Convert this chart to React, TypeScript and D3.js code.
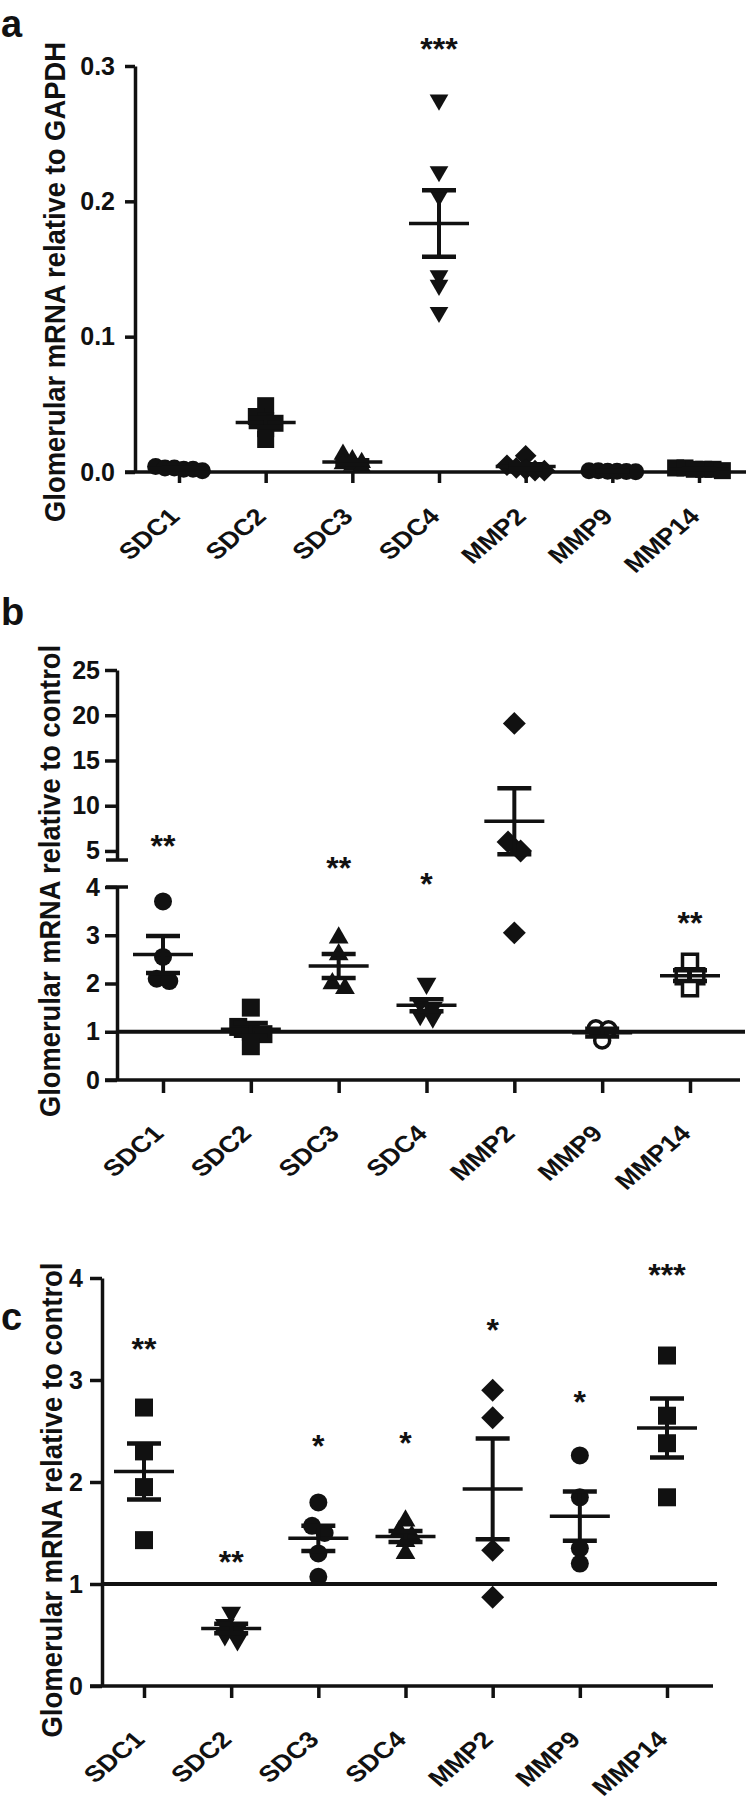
import * as d3 from "d3";
import { useEffect, useRef } from "react";

const genes = ["SDC1", "SDC2", "SDC3", "SDC4", "MMP2", "MMP9", "MMP14"];

// a: glomerular mRNA relative to GAPDH
const aValues = [
  [0.004, 0.003, 0.003, 0.002, 0.002, 0.001],
  [0.049, 0.041, 0.038, 0.036, 0.032, 0.024],
  [0.013, 0.009, 0.007, 0.006, 0.005, 0.004],
  [0.275, 0.222, 0.204, 0.145, 0.138, 0.118],
  [0.012, 0.005, 0.003, 0.002, 0.001, 0.001],
  [0.001, 0.001, 0.0005, 0.0005, 0.0003, 0.0002],
  [0.003, 0.003, 0.002, 0.002, 0.002, 0.001],
];
const aSymbols = ["circle", "square", "triangle", "triangleDown", "diamond", "circle", "square"];
const aStars = ["", "", "", "***", "", "", ""];
const aStarAt = [0, 0, 0, 0.318, 0, 0, 0];
const aTicks = [0, 0.1, 0.2, 0.3];

// b: relative to control (broken axis)
const bValues = [
  [3.7, 2.55, 2.1, 2.05],
  [1.5, 1.1, 1.0, 0.95, 0.7],
  [2.95, 2.6, 2.0, 1.9],
  [2.0, 1.6, 1.5, 1.35, 1.3],
  [19.1, 6.0, 5.0, 3.05],
  [1.07, 1.05, 0.82],
  [2.45, 2.15, 2.15, 1.9],
];
const bSymbols = ["circle", "square", "triangle", "triangleDown", "diamond", "openCircle", "openSquare"];
const bStars = ["**", "", "**", "*", "", "", "**"];
// star heights, read on the lower scale
const bStarAt = [5.0, 0, 4.53, 4.2, 0, 0, 3.4];
const bTicksUpper = [5, 10, 15, 20, 25];
const bTicksLower = [0, 1, 2, 3, 4];

// c: relative to control
const cValues = [
  [2.73, 2.3, 1.95, 1.43],
  [0.72, 0.6, 0.55, 0.5, 0.45],
  [1.8, 1.57, 1.5, 1.3, 1.07],
  [1.62, 1.52, 1.47, 1.42, 1.3],
  [2.9, 2.63, 1.33, 0.87],
  [2.26, 1.85, 1.35, 1.2],
  [3.24, 2.65, 2.38, 1.85],
];
const cSymbols = ["square", "triangleDown", "circle", "triangle", "diamond", "circle", "square"];
const cStars = ["**", "**", "*", "*", "*", "*", "***"];
const cStarAt = [3.37, 1.28, 2.42, 2.45, 3.56, 2.85, 4.1];
const cTicks = [0, 1, 2, 3, 4];

const FONT = "'Liberation Sans', Arial, sans-serif";
const INK = "#111";

function markerPath(sym: string, size: number) {
  if (sym === "circle" || sym === "openCircle")
    return d3.symbol(d3.symbolCircle, Math.PI * (size / 2) ** 2)();
  if (sym === "square" || sym === "openSquare")
    return d3.symbol(d3.symbolSquare, size * size)();
  if (sym === "diamond") return d3.symbol(d3.symbolSquare, (size * 0.9) ** 2)();
  // triangles, side ~ size*1.1
  const s = size * 1.1;
  return d3.symbol(d3.symbolTriangle, (Math.sqrt(3) / 4) * s * s)();
}

function markerRotate(sym: string) {
  if (sym === "diamond") return 45;
  if (sym === "triangleDown") return 180;
  return 0;
}

// GraphPad-like scatter: points at about the same height go side by side
function swarmOffsets(ys: number[], size: number, step: number) {
  const idx = d3.range(ys.length).sort((i, j) => ys[i] - ys[j]);
  const out = new Array(ys.length).fill(0);
  let row: number[] = [];
  let start = -Infinity;
  const flush = () => {
    row.forEach((k, i) => (out[k] = (i - (row.length - 1) / 2) * size * step));
  };
  for (const k of idx) {
    if (ys[k] - start > size * 0.55) {
      flush();
      row = [];
      start = ys[k];
    }
    row.push(k);
  }
  flush();
  return out;
}

function drawGroups(
  g: any,
  values: number[][],
  symbols: string[],
  x: d3.ScalePoint<string>,
  y: (v: number) => number,
  size: number,
  step: number
) {
  values.forEach((vals, i) => {
    const cx = x(genes[i]) as number;
    const ys = vals.map(y);
    const offs = swarmOffsets(ys, size, step);
    const sym = symbols[i];
    const open = sym.startsWith("open");
    vals.forEach((v, k) => {
      g.append("path")
        .attr("d", markerPath(sym, open ? size - 3 : size))
        .attr("transform", `translate(${cx + offs[k]},${ys[k]}) rotate(${markerRotate(sym)})`)
        .attr("fill", open ? "#fff" : INK)
        .attr("stroke", INK)
        .attr("stroke-width", open ? 3.5 : 0);
    });
    const m = d3.mean(vals) as number;
    const sem = (d3.deviation(vals) as number) / Math.sqrt(vals.length);
    const eb = g.append("g").attr("stroke", INK).attr("fill", "none");
    eb.append("line").attr("x1", cx - 30).attr("x2", cx + 30).attr("y1", y(m)).attr("y2", y(m)).attr("stroke-width", 3.5);
    eb.append("line").attr("x1", cx).attr("x2", cx).attr("y1", y(m - sem)).attr("y2", y(m + sem)).attr("stroke-width", 4);
    [m - sem, m + sem].forEach((v) =>
      eb.append("line").attr("x1", cx - 17).attr("x2", cx + 17).attr("y1", y(v)).attr("y2", y(v)).attr("stroke-width", 4.5)
    );
  });
}

function drawStars(g: any, stars: string[], at: number[], x: d3.ScalePoint<string>, y: (v: number) => number) {
  stars.forEach((s, i) => {
    if (!s) return;
    g.append("text")
      .attr("x", x(genes[i]) as number)
      .attr("y", y(at[i]) + 18)
      .attr("text-anchor", "middle")
      .attr("font-family", FONT)
      .attr("font-weight", "bold")
      .attr("font-size", 32)
      .attr("fill", INK)
      .text(s);
  });
}

function drawXAxis(g: any, x: d3.ScalePoint<string>, axisY: number, x0: number, x1: number, tick: number, dy: number) {
  g.append("line").attr("x1", x0).attr("x2", x1).attr("y1", axisY).attr("y2", axisY).attr("stroke", INK).attr("stroke-width", 3.5);
  const ax = g
    .append("g")
    .attr("transform", `translate(0,${axisY})`)
    .call(d3.axisBottom(x).tickSize(tick).tickFormat(() => ""));
  ax.select(".domain").remove();
  ax.selectAll("line").attr("stroke", INK).attr("stroke-width", 3.5);
  // the source figure is a little stretched sideways, so the slanted labels are too
  g.selectAll(null)
    .data(genes)
    .join("text")
    .attr("transform", (d: string) => `translate(${(x(d) as number) + 2},${axisY + dy}) scale(1.08,0.92) rotate(-45)`)
    .attr("text-anchor", "end")
    .attr("font-family", FONT)
    .attr("font-weight", "bold")
    .attr("font-size", 25)
    .attr("fill", INK)
    .text((d: string) => d);
}

function styleYAxis(ax: any) {
  ax.select(".domain").attr("stroke", INK).attr("stroke-width", 3.5);
  ax.selectAll("line").attr("stroke", INK).attr("stroke-width", 3.5);
  ax.selectAll("text").attr("font-family", FONT).attr("font-weight", "bold").attr("font-size", 25).attr("fill", INK);
}

function yTitle(g: any, text: string, bx: number, cy: number, len: number) {
  g.append("text")
    .attr("transform", `translate(${bx},${cy}) rotate(-90)`)
    .attr("text-anchor", "middle")
    .attr("font-family", FONT)
    .attr("font-weight", "bold")
    .attr("font-size", 29)
    .attr("textLength", len)
    .attr("lengthAdjust", "spacingAndGlyphs")
    .attr("fill", INK)
    .text(text);
}

function panelLetter(g: any, t: string, x: number, y: number) {
  g.append("text").attr("x", x).attr("y", y).attr("font-family", FONT).attr("font-weight", "bold").attr("font-size", 38).attr("fill", INK).text(t);
}

export default function App() {
  const ref = useRef<SVGSVGElement>(null);

  useEffect(() => {
    const svg = d3.select(ref.current);
    svg.selectAll("*").remove();
    const intFmt = d3.format("d");

    // ---- panel a
    const a = svg.append("g");
    const xA = d3.scalePoint<string>().domain(genes).range([179, 699]);
    const yA = d3.scaleLinear().domain([0, 0.3]).range([472, 66]);
    const axA = a
      .append("g")
      .attr("transform", "translate(135,0)")
      .call(d3.axisLeft(yA).tickValues(aTicks).tickFormat(d3.format(".1f")).tickSize(10).tickPadding(10).tickSizeOuter(0));
    styleYAxis(axA);
    drawXAxis(a, xA, 472, 125, 746, 11, 46);
    drawGroups(a, aValues, aSymbols, xA, yA, 17, 0.55);
    drawStars(a, aStars, aStarAt, xA, yA);
    yTitle(a, "Glomerular mRNA relative to GAPDH", 65, 282, 480);
    panelLetter(a, "a", 1, 37);

    // ---- panel b (broken y axis)
    const b = svg.append("g");
    const xB = d3.scalePoint<string>().domain(genes).range([163, 690]);
    const yBu = d3.scaleLinear().domain([4, 25]).range([860, 670]);
    const yBl = d3.scaleLinear().domain([0, 4]).range([1080, 887]);
    const yB = (v: number) => (v > 4 ? yBu(v) : yBl(v));
    const axBu = b
      .append("g")
      .attr("transform", "translate(117,0)")
      .call(d3.axisLeft(yBu).tickValues(bTicksUpper).tickFormat(intFmt as any).tickSize(12).tickPadding(5).tickSizeOuter(0));
    styleYAxis(axBu);
    const axBl = b
      .append("g")
      .attr("transform", "translate(117,0)")
      .call(d3.axisLeft(yBl).tickValues(bTicksLower).tickFormat(intFmt as any).tickSize(12).tickPadding(5).tickSizeOuter(0));
    styleYAxis(axBl);
    [860, 887].forEach((yy) =>
      b.append("line").attr("x1", 106).attr("x2", 128).attr("y1", yy).attr("y2", yy).attr("stroke", INK).attr("stroke-width", 3.5)
    );
    drawXAxis(b, xB, 1080, 105, 740, 13, 55);
    b.append("line").attr("x1", 117).attr("x2", 745).attr("y1", yBl(1)).attr("y2", yBl(1)).attr("stroke", INK).attr("stroke-width", 4);
    drawGroups(b, bValues, bSymbols, xB, yB, 18, 0.7);
    drawStars(b, bStars, bStarAt, xB, yBl);
    yTitle(b, "Glomerular mRNA relative to control", 60, 881, 472);
    panelLetter(b, "b", 1, 625);

    // ---- panel c
    const c = svg.append("g");
    const xC = d3.scalePoint<string>().domain(genes).range([144, 667]);
    const yC = d3.scaleLinear().domain([0, 4]).range([1686, 1278]);
    const axC = c
      .append("g")
      .attr("transform", "translate(102,0)")
      .call(d3.axisLeft(yC).tickValues(cTicks).tickFormat(intFmt as any).tickSize(12).tickPadding(7).tickSizeOuter(0));
    styleYAxis(axC);
    drawXAxis(c, xC, 1686, 90, 713, 12, 55);
    c.append("line").attr("x1", 102).attr("x2", 717).attr("y1", yC(1)).attr("y2", yC(1)).attr("stroke", INK).attr("stroke-width", 4);
    drawGroups(c, cValues, cSymbols, xC, yC, 18, 0.7);
    drawStars(c, cStars, cStarAt, xC, yC);
    yTitle(c, "Glomerular mRNA relative to control", 62, 1500, 475);
    panelLetter(c, "c", 1, 1330);
  }, []);

  return (
    <svg
      ref={ref}
      width={750}
      height={1808}
      style={{ position: "absolute", left: 0, top: 0, background: "#fff" }}
    />
  );
}
